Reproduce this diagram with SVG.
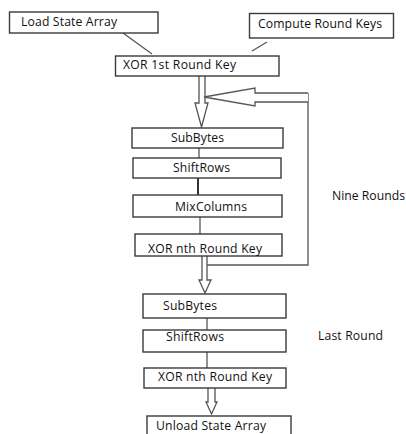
<svg xmlns="http://www.w3.org/2000/svg" width="406" height="434" viewBox="0 0 406 434">
  <style>
    .box { fill: #ffffff; stroke: #3a3a3a; stroke-width: 1.4; }
    .lbl { font-family: "Open Sans", "Noto Sans", sans-serif; font-size: 12.2px; fill: #111111; }
    .line { fill: none; stroke: #555555; stroke-width: 1.3; }
    .hollow { fill: #ffffff; stroke: #555555; stroke-width: 1.3; stroke-linejoin: miter; }
  </style>
  <rect width="406" height="434" fill="#ffffff"/>

  <!-- connectors -->
  <g id="connectors">
    <line class="line" x1="123" y1="33" x2="152" y2="54"/>
    <line class="line" x1="267" y1="42" x2="252" y2="51"/>
    <!-- hollow arrow into the round loop -->
    <path class="hollow" d="M199,76 L199,103 L195,103 L201.5,127 L208,103 L205,103 L205,76"/>
    <!-- loop-back path -->
    <polyline class="line" points="207,265 308,265 308,93"/>
    <path class="hollow" d="M308,93 L255,93 L255,88 L204,97 L255,106 L255,102 L308,102"/>
    <!-- links inside the round -->
    <line class="line" x1="199" y1="148" x2="199" y2="158"/>
    <line class="line" x1="198" y1="178" x2="198" y2="195" style="stroke:#333;stroke-width:2"/>
    <line class="line" x1="200" y1="217" x2="200" y2="234"/>
    <!-- hollow arrow to last round -->
    <path class="hollow" d="M202,256 L202,280 L199,280 L205,293 L211,280 L207,280 L207,256"/>
    <line class="line" x1="207" y1="318" x2="207" y2="330"/>
    <line class="line" x1="207" y1="352" x2="207" y2="368"/>
    <!-- hollow arrow to output -->
    <path class="hollow" d="M208,388 L208,402 L206,402 L211.5,414 L217,402 L215,402 L215,388"/>
  </g>

  <g id="load-state">
    <rect class="box" x="9.5" y="12" width="148.5" height="21"/>
    <text class="lbl" x="21" y="26" textLength="96">Load State Array</text>
  </g>
  <g id="compute-keys">
    <rect class="box" x="249.5" y="13.5" width="144" height="24.5"/>
    <text class="lbl" x="258" y="28" textLength="124">Compute Round Keys</text>
  </g>
  <g id="xor-first">
    <rect class="box" x="115.5" y="56" width="163.5" height="20"/>
    <text class="lbl" x="123" y="69" textLength="113">XOR 1st Round Key</text>
  </g>

  <g id="subbytes-1">
    <rect class="box" x="132" y="128" width="151" height="20"/>
    <text class="lbl" x="171" y="142" textLength="53">SubBytes</text>
  </g>
  <g id="shiftrows-1">
    <rect class="box" x="133" y="158" width="148" height="20"/>
    <text class="lbl" x="173" y="172" textLength="57">ShiftRows</text>
  </g>
  <g id="mixcolumns">
    <rect class="box" x="133" y="195" width="149" height="22"/>
    <text class="lbl" x="175" y="211" textLength="72">MixColumns</text>
  </g>
  <g id="xor-nth-1">
    <rect class="box" x="135" y="234" width="147" height="22"/>
    <text class="lbl" x="148" y="253" textLength="114">XOR nth Round Key</text>
  </g>

  <g id="nine-rounds">
    <text class="lbl" x="332" y="200" textLength="73">Nine Rounds</text>
  </g>

  <g id="subbytes-2">
    <rect class="box" x="143" y="294" width="143" height="24"/>
    <text class="lbl" x="163" y="310" textLength="54">SubBytes</text>
  </g>
  <g id="shiftrows-2">
    <rect class="box" x="143" y="330" width="143" height="22"/>
    <text class="lbl" x="166" y="341" textLength="58">ShiftRows</text>
  </g>
  <g id="xor-nth-2">
    <rect class="box" x="144" y="368" width="142" height="20"/>
    <text class="lbl" x="158" y="381" textLength="114">XOR nth Round Key</text>
  </g>

  <g id="last-round">
    <text class="lbl" x="318" y="340" textLength="65">Last Round</text>
  </g>

  <g id="unload-state">
    <rect class="box" x="147" y="416" width="144" height="30"/>
    <text class="lbl" x="156" y="430" textLength="110">Unload State Array</text>
  </g>
</svg>
